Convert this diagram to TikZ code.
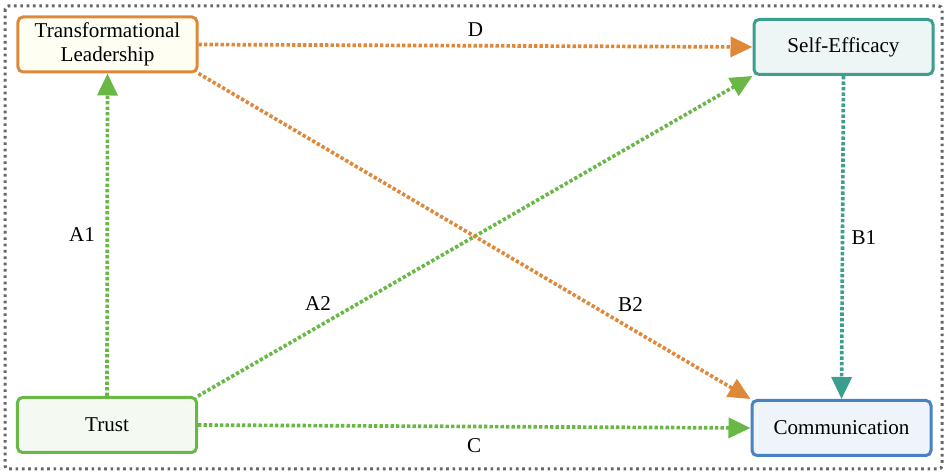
\documentclass[tikz,border=0pt]{standalone}
\usepackage{xcolor}
\usepackage{fontspec}
\setmainfont{Liberation Serif}
\usetikzlibrary{arrows.meta}

\definecolor{leadorange}{HTML}{E0883A}
\definecolor{trustgreen}{HTML}{69B846}
\definecolor{effteal}{HTML}{3C9E8D}
\definecolor{commblue}{HTML}{4682C4}
\definecolor{framegray}{HTML}{666666}

\begin{document}
\begin{tikzpicture}[x=0.3mm,y=-0.3mm,
  font=\rmfamily\fontsize{18}{20.5}\selectfont,
  box/.style={draw, line width=0.9mm, rounded corners=1.5mm, minimum width=53.7mm,
    minimum height=16.5mm, align=center, inner sep=0pt, text=black},
  link/.style={line width=1.1mm, dash pattern=on 1mm off 0.65mm,
    -{Triangle[length=6.6mm,width=6mm]}},
  lbl/.style={text=black}]
\useasboundingbox (0,0) rectangle (950,476);

%Outer frame
\draw[framegray, line width=0.9mm, dash pattern=on 0.8mm off 1.1mm, rounded corners=1mm]
  (5,6) rectangle (942,469);

%Boxes
\node[box, draw=leadorange, fill=yellow!5] (lead) at (107.5,44.5) {Transformational\\Leadership};
\node[box, draw=effteal, fill=effteal!9] (efficacy) at (843.5,47) {Self-Efficacy};
\node[box, draw=trustgreen, fill=trustgreen!7] (trust) at (107,425) {Trust};
\node[box, draw=commblue, fill=commblue!9] (comm) at (841.5,428) {Communication};

%Paths
\draw[link, trustgreen] (trust.north) -- (lead.south) node[lbl, midway, left=2mm] (lblAa) {A1};
\draw[link, trustgreen] (trust.north east) -- (efficacy.south west) node[lbl, pos=0.25, above left] (lblAb) {A2};
\draw[link, trustgreen] (trust.east) -- (comm.west) node[lbl, midway, below=2mm] (lblC) {C};
\draw[link, leadorange] (lead.east) -- (efficacy.west) node[lbl, midway, above=1mm] (lblD) {D};
\draw[link, leadorange] (lead.south east) -- (comm.north west) node[lbl, pos=0.75, above right] (lblBb) {B2};
\draw[link, effteal] (efficacy.south) -- (comm.north) node[lbl, midway, right=1mm] (lblBa) {B1};

\end{tikzpicture}
\end{document}
